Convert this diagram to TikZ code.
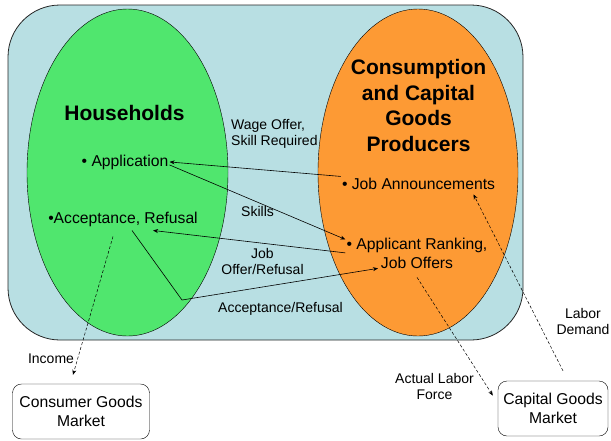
\documentclass[tikz,border=0pt]{standalone}
\usepackage{fontspec}
\setmainfont{Liberation Sans}
\usetikzlibrary{shapes.geometric,arrows.meta}
\definecolor{sectorblue}{RGB}{184,223,227}
\definecolor{hhgreen}{RGB}{80,230,110}
\definecolor{prodorange}{RGB}{253,154,52}
\begin{document}
\begin{tikzpicture}[x=1pt,y=-1pt,
  item/.style={inner sep=1pt, align=center, font=\fontsize{15.7}{19}\selectfont},
  lbl/.style={inner sep=0pt, align=center, font=\fontsize{14}{16}\selectfont},
  title/.style={inner sep=0pt, align=center, font=\fontsize{21}{25.5}\selectfont\bfseries},
  market/.style={draw, rounded corners=9pt, inner sep=0pt, align=center, minimum height=55pt, font=\fontsize{15.7}{19}\selectfont},
  flow/.style={-{Stealth[length=5pt,width=4pt]}, line width=0.6pt},
  dflow/.style={flow, line width=0.5pt, dash pattern=on 3pt off 2pt}]
\useasboundingbox (0,0) rectangle (611,440);
% labor market and the two sectors
\draw [fill=sectorblue, draw=black!85, line width=0.8pt, rounded corners=52pt] (8,5) rectangle (523,340);
\node [ellipse, draw, fill=hhgreen, inner sep=0pt, minimum width=201pt, minimum height=327pt] (hh) at (127.5,172.5) {};
\node [ellipse, draw, fill=prodorange, inner sep=0pt, minimum width=200pt, minimum height=327pt] (prod) at (418,172.5) {};
% (base of a multi-line node = baseline of its last line)
\node [title, anchor=base] (hhname) at (124.5,120) {Households};
\node [title, anchor=base] (prodname) at (418.5,151) {Consumption\\and Capital\\Goods\\Producers};
% activities
\node [item, anchor=base] (app) at (125,166) {\textbullet\ Application};
\node [item, anchor=base] (acc) at (123,223) {\textbullet Acceptance, Refusal};
\node [item, anchor=base] (ja) at (418.5,189) {\textbullet\ Job Announcements};
\node [item, anchor=base] (ar) at (417,268) {\textbullet\ Applicant Ranking,\\Job Offers};
% goods markets
\node [market, minimum width=137pt] (cgm) at (81,411.5) {Consumer Goods\\Market};
\node [market, minimum width=110pt] (kgm) at (553,408.5) {Capital Goods\\Market};
% flow labels
\node [lbl, anchor=base west, align=left] (wage) at (231,145.7) {Wage Offer,\\Skill Required};
\node [lbl, anchor=base west] (skills) at (241,216.7) {Skills};
\node [lbl, anchor=base] (offer) at (262.5,274) {Job\\Offer/Refusal};
\node [lbl, anchor=base] (accref) at (280.5,312) {Acceptance/Refusal};
\node [lbl, anchor=base] (income) at (51,363) {Income};
\node [lbl, anchor=base] (ldemand) at (583,334) {Labor\\Demand};
\node [lbl, anchor=base] (lforce) at (434.5,399) {Actual Labor\\Force};
\coordinate (bend) at (182,300);
% flows
\draw [flow] (ja.north west) -- (app.east);
\draw [flow] ([yshift=-3pt]app.east) -- ([yshift=-3pt]ar.north west);
\draw [flow] (ar.west) -- ([xshift=30pt,yshift=-3pt]acc.south);
\draw [flow] ([xshift=9pt,yshift=-3pt]acc.south) -- (bend) -- ([xshift=-39pt,yshift=1pt]ar.south);
\draw [dflow] ([xshift=-10pt,yshift=-9pt]acc.south) -- ([xshift=-8pt,yshift=9pt]cgm.north);
\draw [dflow] ([yshift=-8pt]ar.south) -- ([xshift=-5pt,yshift=13pt]kgm.west);
\draw [dflow] ([xshift=10pt,yshift=10pt]kgm.north) -- ([xshift=55pt,yshift=-4pt]ja.south);
\end{tikzpicture}
\end{document}
